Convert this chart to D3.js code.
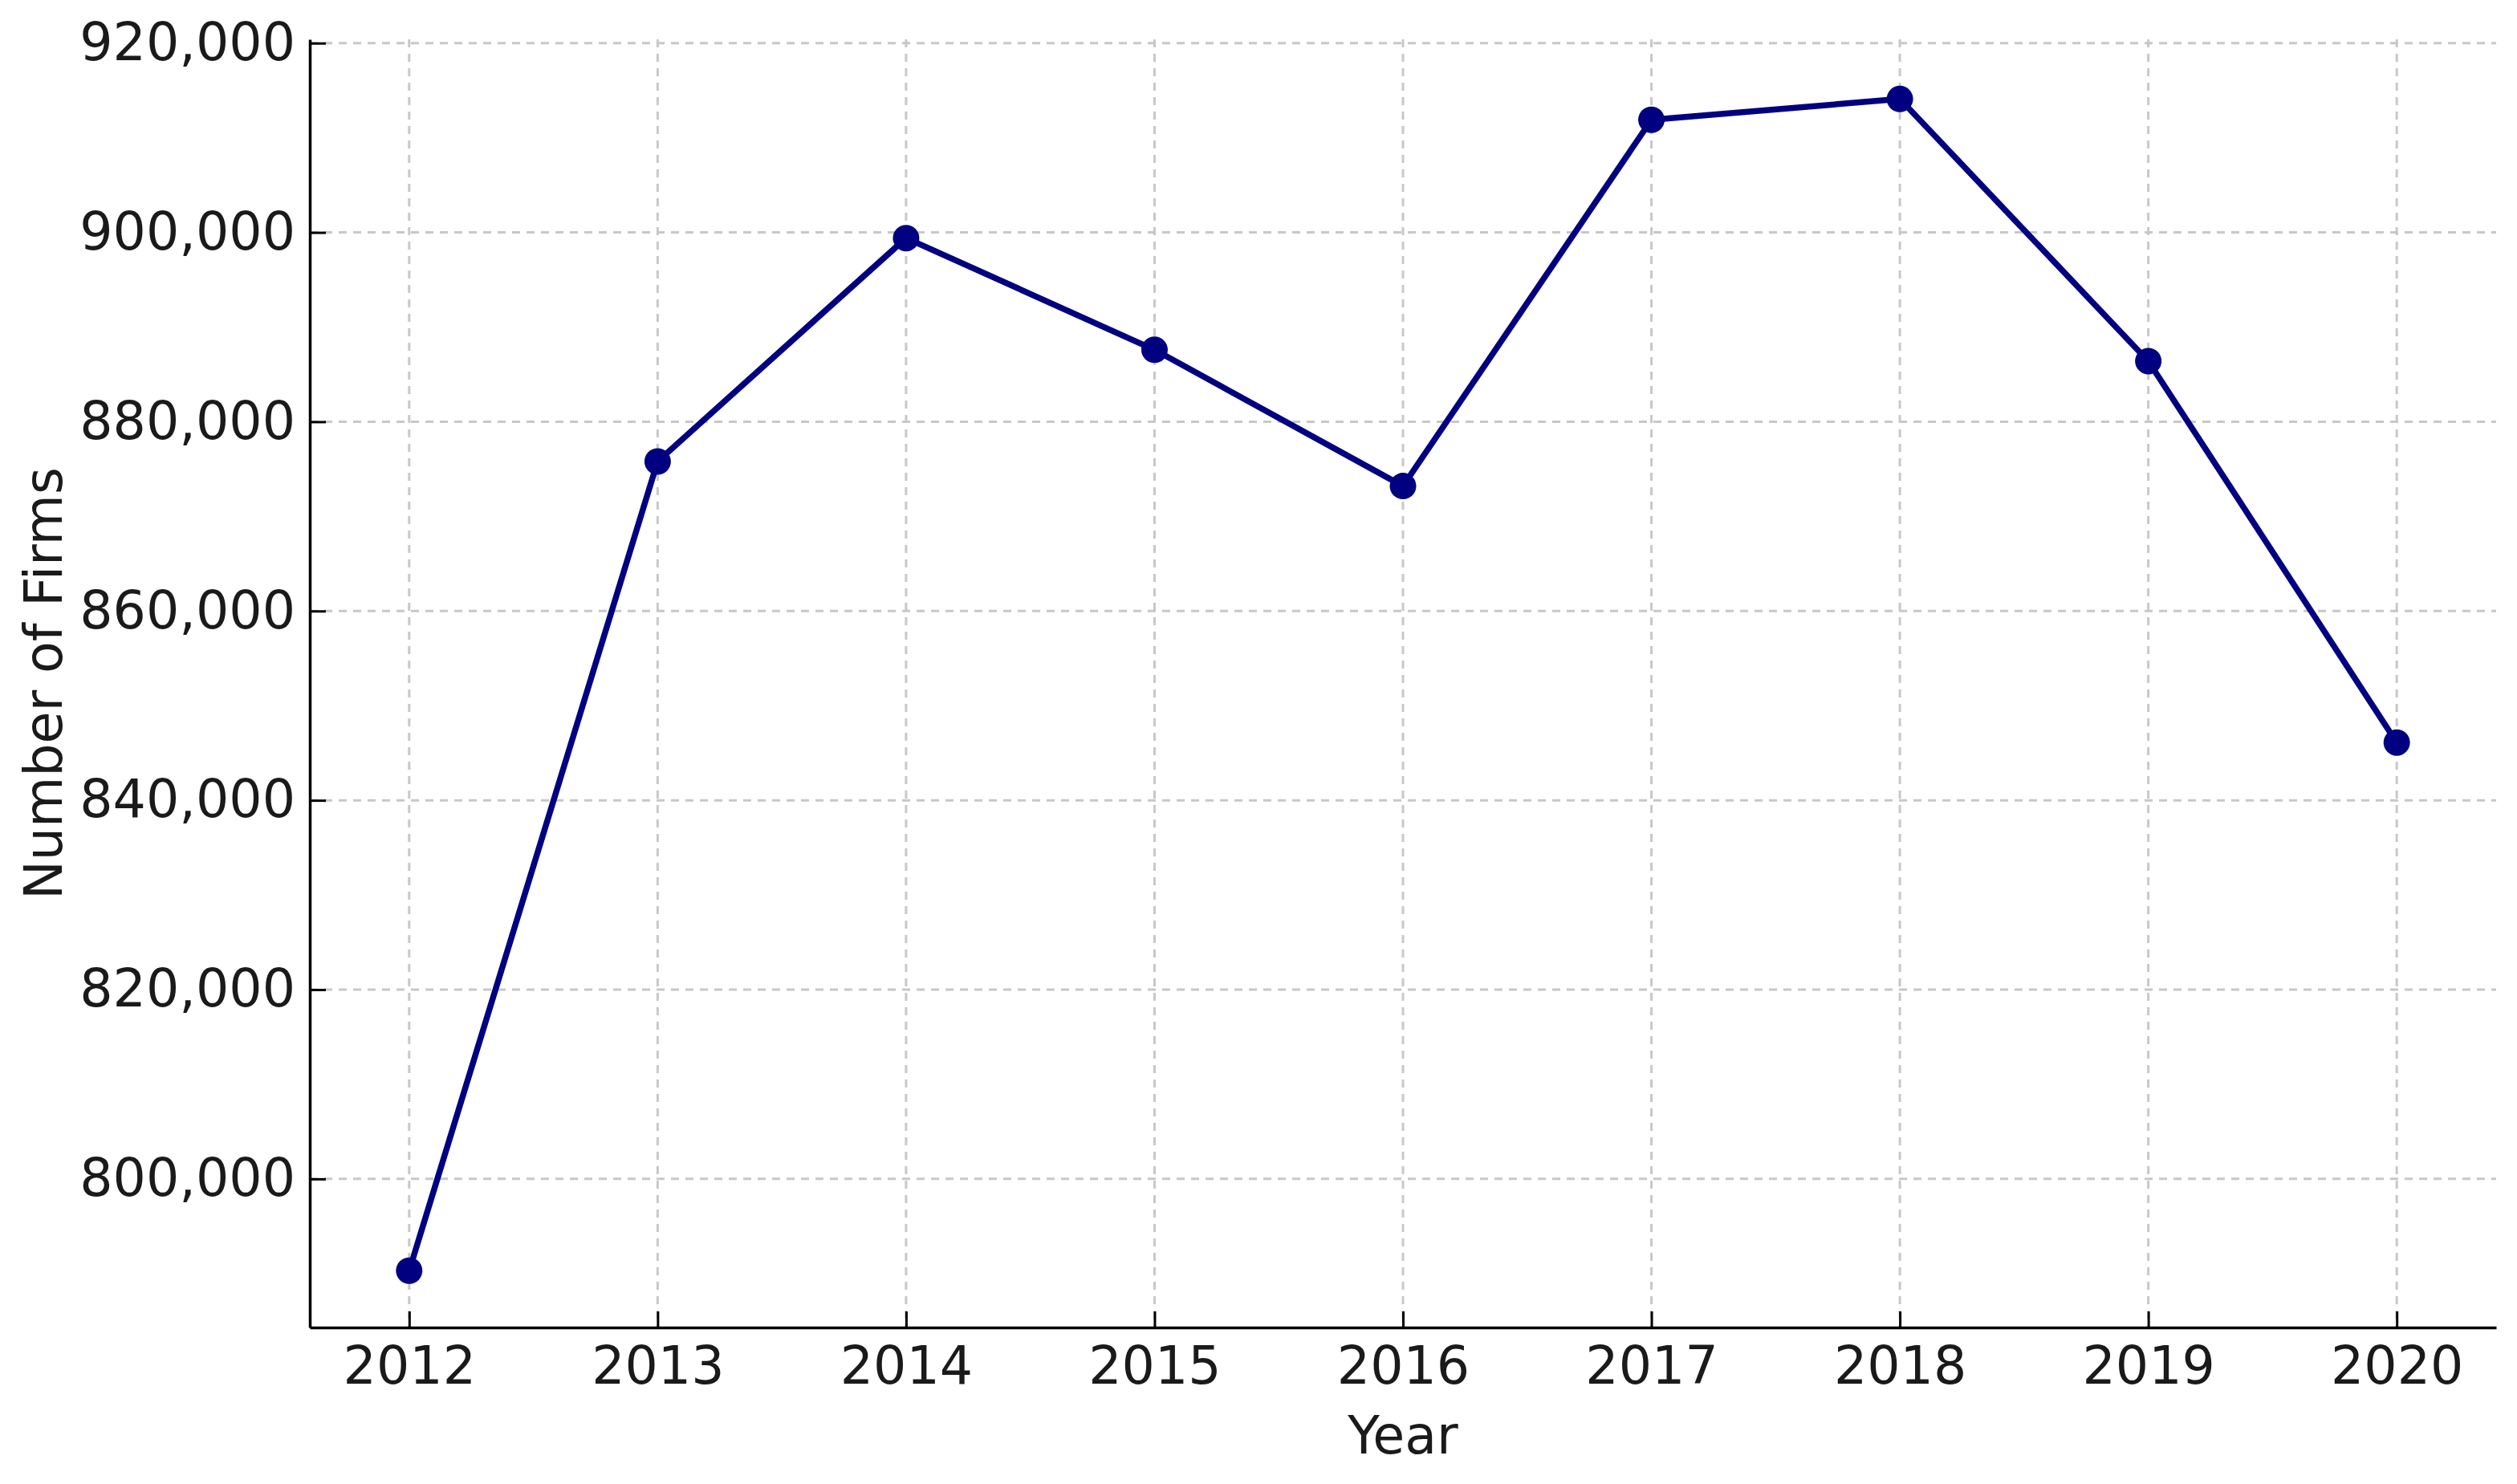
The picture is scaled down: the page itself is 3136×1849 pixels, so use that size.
<!DOCTYPE html>
<html>
<head>
<meta charset="utf-8">
<script src="https://cdn.jsdelivr.net/npm/d3@7"></script>
<style>
  body { margin: 0; background: #fff; }
  text { font-family: "DejaVu Sans", sans-serif; fill: #1a1a1a; }
  .grid line { stroke: #c8c8c8; stroke-width: 3; stroke-dasharray: 10 8; }
</style>
</head>
<body>
<svg id="chart"></svg>
<script>
const
  width = 3136,
  height = 1849,
  margin = {top: 49, right: 26, bottom: 195, left: 386},
  fontSize = 65;

// Data
const years = [2012, 2013, 2014, 2015, 2016, 2017, 2018, 2019, 2020];
const firms = [790300, 875800, 899400, 887600, 873200, 911900, 914100, 886400, 846100];
const yTicks = [800000, 820000, 840000, 860000, 880000, 900000, 920000];

const points = years.map((y, i) => ({year: y, value: firms[i]}));

const svg = d3.select('#chart').attr('width', width).attr('height', height);

const x = d3.scaleLinear().domain([2011.6, 2020.4]).range([margin.left, width - margin.right]);
const y = d3.scaleLinear().domain([784300, 920400]).range([height - margin.bottom, margin.top]);

// grid lines
svg.append('g').attr('class', 'grid').
  selectAll('line').
  data(yTicks).
  join('line').
  attr('x1', margin.left).attr('x2', width - margin.right).
  attr('y1', d => y(d)).attr('y2', d => y(d));

svg.append('g').attr('class', 'grid').
  selectAll('line').
  data(years).
  join('line').
  attr('y1', margin.top).attr('y2', height - margin.bottom).
  attr('x1', d => x(d)).attr('x2', d => x(d));

// axes, ticks pointing inward
const xAxis = d3.axisBottom(x).tickValues(years).tickFormat(d3.format('d')).
  tickSizeInner(-20).tickSizeOuter(0).tickPadding(24);
const yAxis = d3.axisLeft(y).tickValues(yTicks).tickFormat(d3.format(',')).
  tickSizeInner(-20).tickSizeOuter(0).tickPadding(18);

const gx = svg.append('g').
  attr('transform', 'translate(0,' + (height - margin.bottom) + ')').
  call(xAxis);
const gy = svg.append('g').
  attr('transform', 'translate(' + margin.left + ',0)').
  call(yAxis);

[gx, gy].forEach(g => {
  g.select('.domain').attr('stroke', '#000').attr('stroke-width', 3.5);
  g.selectAll('.tick line').attr('stroke', '#000').attr('stroke-width', 3);
  g.selectAll('.tick text').
    style('font-family', '"DejaVu Sans", sans-serif').
    style('font-size', fontSize + 'px').
    attr('fill', '#1a1a1a');
});

// axis titles
svg.append('text').
  attr('x', (margin.left + width - margin.right) / 2).
  attr('y', 1811).
  attr('text-anchor', 'middle').
  style('font-size', fontSize + 'px').
  text('Year');

svg.append('text').
  attr('transform', 'translate(77,' + (margin.top + height - margin.bottom) / 2 + ') rotate(-90)').
  attr('text-anchor', 'middle').
  style('font-size', fontSize + 'px').
  text('Number of Firms');

// the series
const line = d3.line().x(d => x(d.year)).y(d => y(d.value));

svg.append('path').
  datum(points).
  attr('fill', 'none').
  attr('stroke', '#000080').
  attr('stroke-width', 7.5).
  attr('stroke-linejoin', 'round').
  attr('d', line);

svg.append('g').
  selectAll('circle').
  data(points).
  join('circle').
  attr('cx', d => x(d.year)).
  attr('cy', d => y(d.value)).
  attr('r', 16.5).
  attr('fill', '#000080');
</script>
</body>
</html>
